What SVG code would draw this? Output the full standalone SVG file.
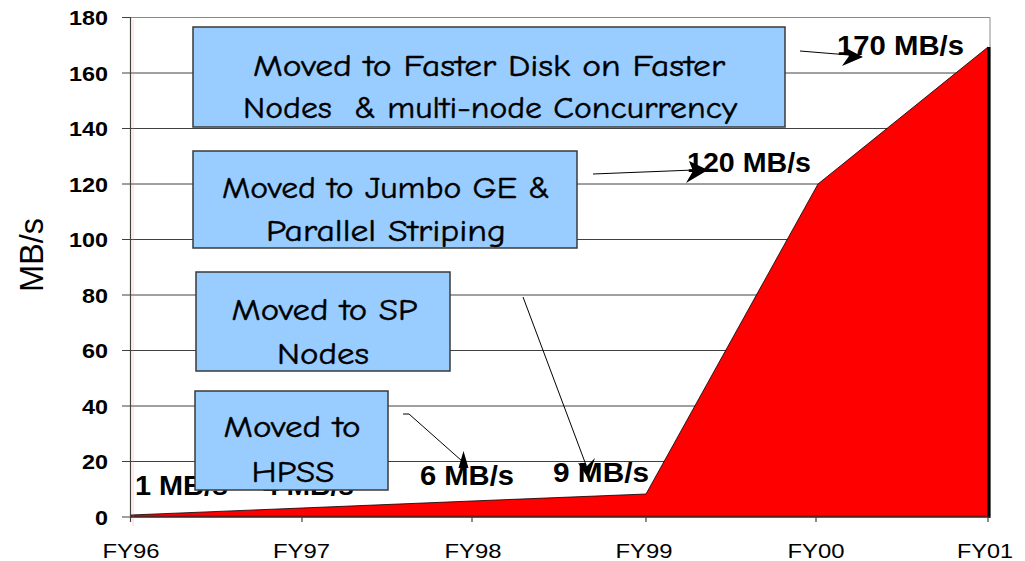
<svg xmlns="http://www.w3.org/2000/svg" width="1025" height="561" viewBox="0 0 1025 561">
  <style>
    .grid { stroke: #404040; stroke-width: 1; fill: none; }
    .axis { stroke: #404040; stroke-width: 1.2; fill: none; }
    .ylab { font-family: "Liberation Sans", Arial, sans-serif; font-weight: bold; font-size: 21px; fill: #000; text-anchor: end; }
    .xlab { font-family: "Liberation Sans", Arial, sans-serif; font-size: 21px; fill: #000; text-anchor: middle; }
    .val { font-family: "Liberation Sans", Arial, sans-serif; font-weight: bold; font-size: 27px; fill: #000; }
    .note rect { fill: #99CCFF; stroke: #3a3a3a; stroke-width: 1.5; }
    .note text { font-family: "Comic Sans MS", "Comic Neue", "DejaVu Sans", sans-serif; font-size: 30px; fill: #000; stroke: #000; stroke-width: 0.45; text-anchor: middle; }
    .lead { stroke: #000; stroke-width: 1; fill: none; }
    .head { fill: #000; stroke: none; }
  </style>

  <rect width="1025" height="561" fill="#ffffff"/>

  <!-- plot frame -->
  <polyline points="131,17.5 990,17.5 990,517" stroke="#8a8a8a" stroke-width="1" fill="none"/>

  <!-- horizontal gridlines every 20 MB/s -->
  <g id="gridlines">
    <line class="grid" x1="122" y1="73" x2="990" y2="73"/>
    <line class="grid" x1="122" y1="128.5" x2="990" y2="128.5"/>
    <line class="grid" x1="122" y1="184" x2="990" y2="184"/>
    <line class="grid" x1="122" y1="239.5" x2="990" y2="239.5"/>
    <line class="grid" x1="122" y1="295" x2="990" y2="295"/>
    <line class="grid" x1="122" y1="350.5" x2="990" y2="350.5"/>
    <line class="grid" x1="122" y1="406" x2="990" y2="406"/>
    <line class="grid" x1="122" y1="461.5" x2="990" y2="461.5"/>
    <line class="grid" x1="122" y1="17.5" x2="131" y2="17.5"/>
  </g>

  <!-- throughput area series -->
  <g id="series">
    <polygon points="131,517 131,515 302,508 472,501 646,494 818,184 988,47 988,517" fill="#FF0000" stroke="#000" stroke-width="0.8" stroke-linejoin="round"/>
    <line x1="989" y1="47" x2="989" y2="518" stroke="#000" stroke-width="3"/>
    <line x1="131" y1="516.5" x2="988" y2="516.5" stroke="#7a0000" stroke-width="1.5"/>
  </g>

  <!-- axes and ticks -->
  <g id="axes">
    <line x1="133" y1="20" x2="133" y2="526" stroke="#ff8080" stroke-width="0.8" opacity="0.45"/>
    <line class="axis" x1="130.5" y1="17" x2="130.5" y2="522"/>
    <line class="axis" x1="122" y1="517" x2="990" y2="517"/>
    <line class="axis" x1="302" y1="517" x2="302" y2="522"/>
    <line class="axis" x1="472" y1="517" x2="472" y2="522"/>
    <line class="axis" x1="646" y1="517" x2="646" y2="522"/>
    <line class="axis" x1="816" y1="517" x2="816" y2="522"/>
    <line class="axis" x1="988" y1="517" x2="988" y2="522"/>
  </g>

  <!-- y axis labels -->
  <g id="y-labels">
    <text class="ylab" x="108" y="25" textLength="39" lengthAdjust="spacingAndGlyphs">180</text>
    <text class="ylab" x="108" y="80.5" textLength="39" lengthAdjust="spacingAndGlyphs">160</text>
    <text class="ylab" x="108" y="136" textLength="39" lengthAdjust="spacingAndGlyphs">140</text>
    <text class="ylab" x="108" y="191.5" textLength="39" lengthAdjust="spacingAndGlyphs">120</text>
    <text class="ylab" x="108" y="247" textLength="39" lengthAdjust="spacingAndGlyphs">100</text>
    <text class="ylab" x="108" y="302.5" textLength="26" lengthAdjust="spacingAndGlyphs">80</text>
    <text class="ylab" x="108" y="358" textLength="26" lengthAdjust="spacingAndGlyphs">60</text>
    <text class="ylab" x="108" y="413.5" textLength="26" lengthAdjust="spacingAndGlyphs">40</text>
    <text class="ylab" x="108" y="469" textLength="26" lengthAdjust="spacingAndGlyphs">20</text>
    <text class="ylab" x="108" y="524.5" textLength="13" lengthAdjust="spacingAndGlyphs">0</text>
  </g>
  <text x="0" y="0" transform="translate(43,255) rotate(-90)" font-family="Liberation Sans, Arial, sans-serif" font-size="33" text-anchor="middle" textLength="74" lengthAdjust="spacingAndGlyphs">MB/s</text>

  <!-- x axis labels -->
  <g id="x-labels">
    <text class="xlab" x="131" y="558" textLength="57" lengthAdjust="spacingAndGlyphs">FY96</text>
    <text class="xlab" x="301.5" y="558" textLength="57" lengthAdjust="spacingAndGlyphs">FY97</text>
    <text class="xlab" x="473" y="558" textLength="57" lengthAdjust="spacingAndGlyphs">FY98</text>
    <text class="xlab" x="644" y="558" textLength="57" lengthAdjust="spacingAndGlyphs">FY99</text>
    <text class="xlab" x="816" y="558" textLength="57" lengthAdjust="spacingAndGlyphs">FY00</text>
    <text class="xlab" x="985" y="558" textLength="56" lengthAdjust="spacingAndGlyphs">FY01</text>
  </g>

  <!-- data value labels -->
  <g id="values">
    <text class="val" x="135" y="495" textLength="93" lengthAdjust="spacingAndGlyphs">1 MB/s</text>
    <text class="val" x="263" y="495" textLength="91" lengthAdjust="spacingAndGlyphs">4 MB/s</text>
    <text class="val" x="420" y="485" textLength="94" lengthAdjust="spacingAndGlyphs">6 MB/s</text>
    <text class="val" x="553" y="482" textLength="96" lengthAdjust="spacingAndGlyphs">9 MB/s</text>
    <text class="val" x="687" y="172" textLength="124" lengthAdjust="spacingAndGlyphs">120 MB/s</text>
    <text class="val" x="837" y="55" textLength="127" lengthAdjust="spacingAndGlyphs">170 MB/s</text>
  </g>

  <!-- milestone notes -->
  <g id="note-disk" class="note">
    <rect x="193" y="27" width="592" height="100"/>
    <text x="489" y="76" textLength="472" lengthAdjust="spacingAndGlyphs">Moved to Faster Disk on Faster</text>
    <text x="490" y="118" textLength="494" lengthAdjust="spacingAndGlyphs" xml:space="preserve">Nodes  &amp; multi-node Concurrency</text>
  </g>
  <g id="note-jumbo" class="note">
    <rect x="193" y="151" width="384" height="97"/>
    <text x="386" y="198" textLength="328" lengthAdjust="spacingAndGlyphs">Moved to Jumbo GE &amp;</text>
    <text x="386" y="241" textLength="240" lengthAdjust="spacingAndGlyphs">Parallel Striping</text>
  </g>
  <g id="note-sp" class="note">
    <rect x="196" y="272" width="254" height="99"/>
    <text x="324.5" y="320" textLength="186" lengthAdjust="spacingAndGlyphs">Moved to SP</text>
    <text x="323" y="364" textLength="92" lengthAdjust="spacingAndGlyphs">Nodes</text>
  </g>
  <g id="note-hpss" class="note">
    <rect x="195" y="391" width="193" height="99"/>
    <text x="292" y="437" textLength="137" lengthAdjust="spacingAndGlyphs">Moved to</text>
    <text x="293" y="482" textLength="83" lengthAdjust="spacingAndGlyphs">HPSS</text>
  </g>

  <!-- leader arrows from notes to values -->
  <g id="connectors">
    <polyline class="lead" points="800,51 849,55"/>
    <polygon class="head" points="844,47 863,57 842,66 849,56"/>
    <polyline class="lead" points="593,174 694,170"/>
    <polygon class="head" points="689,161 708,170 686,183 693,171"/>
    <polyline class="lead" points="403,414 409,414 462,461"/>
    <polygon class="head" points="463.5,451 468.5,468 458.5,468"/>
    <polyline class="lead" points="523,297 586,465"/>
    <polygon class="head" points="578,463 587,466 595,458 588,478"/>
  </g>
</svg>
